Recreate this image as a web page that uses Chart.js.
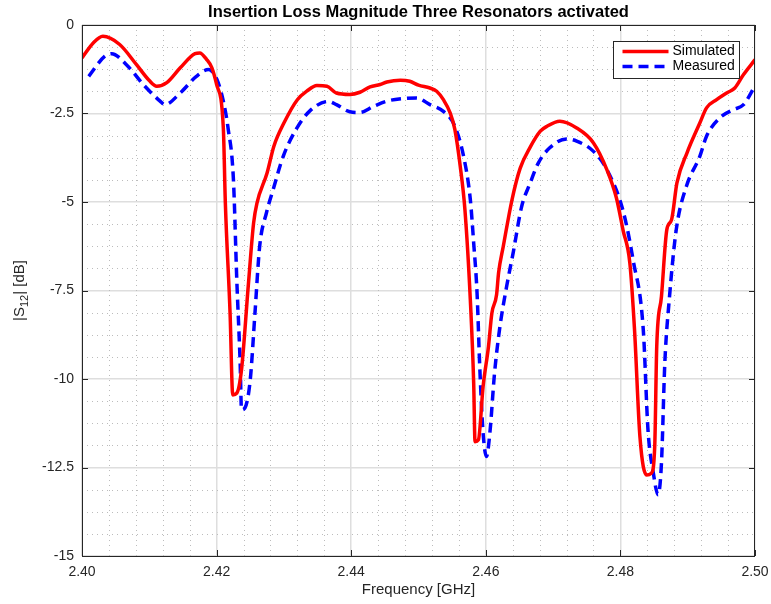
<!DOCTYPE html>
<html>
<head>
<meta charset="utf-8">
<script src="https://cdn.jsdelivr.net/npm/chart.js@4"></script>
<style>
  html, body { margin: 0; padding: 0; background: #fff; }
  #wrap { width: 771px; height: 604px; }
</style>
</head>
<body>
<div id="wrap"><canvas id="lossChart" width="771" height="604"></canvas></div>
<script>
// Simulated S12 (GHz / dB)
const simFreq = [2.4000, 2.4017, 2.4031, 2.4056, 2.4081, 2.4100, 2.4111, 2.4126, 2.4146, 2.4168, 2.4175, 2.4185, 2.4193, 2.4200,
  2.4210, 2.4213, 2.4220, 2.4224, 2.4230, 2.4237, 2.4247, 2.4255, 2.4260, 2.4275, 2.4285, 2.4300, 2.4320, 2.4334, 2.4349,
  2.4364, 2.4378, 2.4398, 2.4413, 2.4428, 2.4443, 2.4453, 2.4473, 2.4487, 2.4500, 2.4517, 2.4527, 2.4537, 2.4547, 2.4554,
  2.4562, 2.4569, 2.4577, 2.4582, 2.4584, 2.4589, 2.4596, 2.4604, 2.4609, 2.4616, 2.4619, 2.4626, 2.4639, 2.4651, 2.4666,
  2.4681, 2.4691, 2.4710, 2.4735, 2.4760, 2.4780, 2.4794, 2.4804, 2.4814, 2.4821, 2.4829, 2.4839, 2.4846, 2.4851, 2.4854,
  2.4861, 2.4869, 2.4876, 2.4884, 2.4899, 2.4918, 2.4928, 2.4943, 2.4958, 2.4970, 2.4983, 2.5000];
const simLoss = [-0.93, -0.50, -0.32, -0.55, -1.12, -1.57, -1.73, -1.63, -1.21, -0.81, -0.79, -0.97, -1.21, -1.68,
  -2.91, -5.03, -8.13, -10.45, -10.40, -9.74, -7.38, -5.59, -5.03, -4.18, -3.43, -2.77, -2.11, -1.87, -1.71,
  -1.73, -1.92, -1.96, -1.90, -1.75, -1.68, -1.61, -1.56, -1.59, -1.70, -1.78, -1.87, -2.11, -2.48, -2.95,
  -3.99, -5.22, -7.76, -10.12, -11.77, -11.72, -10.21, -9.08, -8.14, -7.62, -7.00, -6.25, -4.93, -4.05, -3.45,
  -3.00, -2.86, -2.72, -2.91, -3.33, -4.09, -4.88, -5.80, -6.72, -8.61, -11.63, -12.71, -12.66, -11.91, -9.08,
  -7.67, -5.78, -5.50, -4.46, -3.61, -2.77, -2.34, -2.11, -1.92, -1.78, -1.40, -0.98];

// Measured S12 (GHz / dB)
const measFreq = [2.4010, 2.4034, 2.4044, 2.4066, 2.4091, 2.4116, 2.4123, 2.4146, 2.4170, 2.4188, 2.4200, 2.4210, 2.4217,
  2.4225, 2.4230, 2.4235, 2.4237, 2.4242, 2.4250, 2.4257, 2.4264, 2.4274, 2.4284, 2.4299, 2.4319, 2.4339, 2.4366, 2.4378,
  2.4398, 2.4413, 2.4433, 2.4453, 2.4477, 2.4497, 2.4517, 2.4537, 2.4554, 2.4567, 2.4577, 2.4582, 2.4587, 2.4591, 2.4596,
  2.4601, 2.4606, 2.4613, 2.4621, 2.4631, 2.4641, 2.4653, 2.4666, 2.4678, 2.4695, 2.4720, 2.4735, 2.4760, 2.4780, 2.4804,
  2.4819, 2.4834, 2.4841, 2.4849, 2.4856, 2.4861, 2.4866, 2.4873, 2.4883, 2.4898, 2.4918, 2.4928, 2.4948, 2.4968, 2.4983,
  2.5000];
const measLoss = [-1.45, -0.88, -0.81, -1.12, -1.68, -2.15, -2.25, -1.92, -1.45, -1.26, -1.52, -2.15, -2.91,
  -4.37, -7.20, -9.55, -10.87, -10.82, -10.02, -8.14, -6.25, -5.31, -4.65, -3.71, -2.92, -2.42, -2.16, -2.25,
  -2.45, -2.47, -2.30, -2.15, -2.08, -2.06, -2.25, -2.44, -2.86, -3.71, -4.93, -6.16, -7.57, -9.65, -11.53,
  -12.19, -11.53, -9.83, -8.52, -7.38, -6.40, -5.15, -4.46, -3.90, -3.47, -3.22, -3.28, -3.57, -4.09, -5.25,
  -6.65, -8.61, -11.44, -12.66, -13.27, -12.38, -9.55, -7.67, -5.78, -4.56, -3.71, -3.14, -2.62, -2.39, -2.25,
  -1.72];

const seriesLabels = ["Simulated", "Measured"];
const chartTitle = "Insertion Loss Magnitude Three Resonators activated";

const FONT = "'Liberation Sans', Helvetica, Arial, sans-serif";
const xMin = 2.40, xMax = 2.50, yMin = -15, yMax = 0;

// dotted minor grid + box + inward ticks, matlab style
const matlabAxes = {
  id: "matlabAxes",
  beforeDatasetsDraw(chart) {
    const { ctx, chartArea: a, scales: { x, y } } = chart;
    ctx.save();
    ctx.strokeStyle = "#bcbcbc";
    ctx.lineWidth = 1;
    ctx.setLineDash([1, 4]);
    ctx.beginPath();
    for (let i = 1; i < 25; i++) {
      if (i % 5 === 0) continue;
      const px = Math.round(x.getPixelForValue(xMin + i * 0.004)) + 0.5;
      ctx.moveTo(px, a.top);
      ctx.lineTo(px, a.bottom);
    }
    for (let i = 1; i < 24; i++) {
      if (i % 4 === 0) continue;
      const py = Math.round(y.getPixelForValue(yMax - i * 0.625)) + 0.5;
      ctx.moveTo(a.left, py);
      ctx.lineTo(a.right, py);
    }
    ctx.stroke();
    ctx.restore();
  },
  afterDatasetsDraw(chart) {
    const { ctx, chartArea: a, scales: { x, y } } = chart;
    ctx.save();
    ctx.strokeStyle = "#262626";
    ctx.lineWidth = 1;
    ctx.strokeRect(a.left + 0.5, a.top + 0.5, a.right - a.left - 1, a.bottom - a.top);
    ctx.beginPath();
    x.ticks.forEach((t) => {
      const px = Math.round(x.getPixelForValue(t.value)) + 0.5;
      ctx.moveTo(px, a.bottom); ctx.lineTo(px, a.bottom - 6);
      ctx.moveTo(px, a.top); ctx.lineTo(px, a.top + 6);
    });
    y.ticks.forEach((t) => {
      const py = Math.round(y.getPixelForValue(t.value)) + 0.5;
      ctx.moveTo(a.left, py); ctx.lineTo(a.left + 6, py);
      ctx.moveTo(a.right, py); ctx.lineTo(a.right - 6, py);
    });
    ctx.stroke();

    // title
    ctx.fillStyle = "#000";
    ctx.font = "bold 16.5px " + FONT;
    ctx.textAlign = "center";
    ctx.textBaseline = "middle";
    ctx.fillText(chartTitle, (a.left + a.right) / 2, 12);

    // y title with subscript
    ctx.translate(20, (a.top + a.bottom) / 2);
    ctx.rotate(-Math.PI / 2);
    ctx.fillStyle = "#262626";
    const big = "15px " + FONT, small = "11px " + FONT;
    ctx.font = big; const w1 = ctx.measureText("|S").width, w3 = ctx.measureText("| [dB]").width;
    ctx.font = small; const w2 = ctx.measureText("12").width;
    let cx = -(w1 + w2 + w3) / 2;
    ctx.textAlign = "left";
    ctx.font = big; ctx.fillText("|S", cx, 0); cx += w1;
    ctx.font = small; ctx.fillText("12", cx, 5); cx += w2;
    ctx.font = big; ctx.fillText("| [dB]", cx, 0);
    ctx.restore();

    // legend box
    ctx.save();
    const bx = 613.5, by = 41.5, bw = 126, bh = 37;
    ctx.fillStyle = "#fff";
    ctx.fillRect(bx, by, bw, bh);
    ctx.strokeStyle = "#262626";
    ctx.lineWidth = 1;
    ctx.strokeRect(bx, by, bw, bh);
    chart.data.datasets.forEach((ds, i) => {
      const ly = by + 10 + i * 15;
      ctx.strokeStyle = ds.borderColor;
      ctx.lineWidth = ds.borderWidth;
      ctx.setLineDash(ds.borderDash || []);
      ctx.beginPath();
      ctx.moveTo(bx + 9, ly);
      ctx.lineTo(bx + 55, ly);
      ctx.stroke();
      ctx.setLineDash([]);
      ctx.fillStyle = "#000";
      ctx.font = "14px " + FONT;
      ctx.textAlign = "left";
      ctx.textBaseline = "middle";
      ctx.fillText(ds.label, bx + 59, ly);
    });
    ctx.restore();
  },
};

const ctx = document.getElementById("lossChart").getContext("2d");

const chart = new Chart(ctx, {
  type: "line",
  data: {
    datasets: [
      {
        label: seriesLabels[0],
        data: simFreq.map((f, i) => ({ x: f, y: simLoss[i] })),
        borderColor: "#ff0000",
        borderWidth: 3.5,
        pointRadius: 0,
        cubicInterpolationMode: "monotone",
        fill: false,
      },
      {
        label: seriesLabels[1],
        data: measFreq.map((f, i) => ({ x: f, y: measLoss[i] })),
        borderColor: "#0000ff",
        borderWidth: 3.5,
        borderDash: [10, 6],
        pointRadius: 0,
        cubicInterpolationMode: "monotone",
        fill: false,
      },
    ],
  },
  options: {
    responsive: false,
    animation: false,
    devicePixelRatio: 1,
    layout: { padding: { left: 0, top: 25, right: 16, bottom: 0 } },
    scales: {
      x: {
        type: "linear",
        min: xMin,
        max: xMax,
        grid: { color: "#dedede", lineWidth: 1.5, drawTicks: false },
        border: { display: false },
        ticks: {
          stepSize: 0.02,
          padding: 8,
          color: "#262626",
          font: { family: FONT, size: 14 },
          callback: (v) => v.toFixed(2),
        },
        title: {
          display: true,
          text: "Frequency [GHz]",
          color: "#262626",
          font: { family: FONT, size: 15 },
          padding: { top: 0, bottom: 5 },
        },
        afterFit: (s) => { s.height = 48; s.paddingLeft = 0; s.paddingRight = 0; },
      },
      y: {
        min: yMin,
        max: yMax,
        grid: { color: "#dedede", lineWidth: 1.5, drawTicks: false },
        border: { display: false },
        ticks: {
          stepSize: 2.5,
          padding: 8,
          color: "#262626",
          font: { family: FONT, size: 14 },
        },
        afterFit: (s) => { s.width = 82; s.paddingTop = 0; s.paddingBottom = 0; },
      },
    },
    plugins: {
      legend: { display: false },
      tooltip: { enabled: false },
      title: { display: false },
    },
  },
  plugins: [matlabAxes],
});
</script>
</body>
</html>
